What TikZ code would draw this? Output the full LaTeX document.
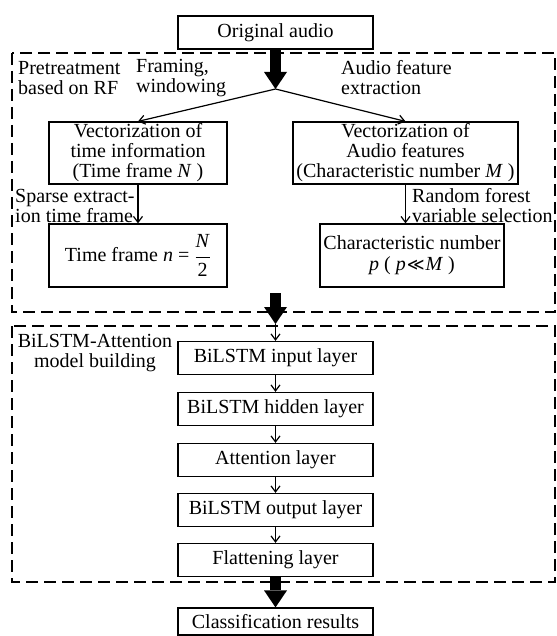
\documentclass[tikz,border=0pt]{standalone}
\usepackage{fontspec}
\setmainfont{Liberation Serif}
\newfontfamily\symfont{DejaVu Sans}
\usetikzlibrary{arrows.meta}
\tikzset{
  box/.style={draw, line width=1.2pt, inner sep=0pt, align=center, font=\fontsize{20}{20}\selectfont},
  lbl/.style={inner sep=0pt, anchor=west, align=left, font=\fontsize{20}{20}\selectfont},
  frame/.style={draw, line width=1.2pt, dash pattern=on 12pt off 6pt},
  thin/.style={line width=1.2pt, -{Straight Barb[length=6pt,width=9pt]}},
  bigarrow/.style={line width=11pt, -{Triangle[width=23pt,length=17pt,line width=0pt]}}
}
\begin{document}
\begin{tikzpicture}[x=1pt, y=-1pt]
    \useasboundingbox (0,0) rectangle (556,636);
    \draw[frame] (12,53) rectangle (555,312);
    \draw[frame] (12,326) rectangle (555,582);
    % pretreatment part
    \node[box, minimum width=195pt, minimum height=33pt] (orig) at (275.5,32.5) {Original audio};
    \node[box, minimum width=178pt, minimum height=62pt] (vtime) at (138,153) {Vectorization of\\time information\\(Time frame \textit{N} )};
    \node[box, minimum width=225pt, minimum height=62pt] (vfeat) at (405.5,153) {Vectorization of\\Audio features\\(Characteristic number \textit{M} )};
    \node[box, minimum width=178pt, minimum height=63pt] (tframe) at (138,255.5) {Time frame \textit{n} = $\displaystyle\frac{\mbox{\textit{N}}}{\mbox{2}}$};
    \node[box, minimum width=184pt, minimum height=63pt] (cnum) at (412,255.5) {Characteristic number\\[1pt]\textit{p} ( \textit{p}\kern1pt{\symfont\fontsize{17}{17}\selectfont ≪}\kern1pt\textit{M} )};
    \coordinate (split) at (275.5,89);
    \draw[bigarrow] (orig) -- (split);
    \draw[thin] (split) -- (vtime.north); \draw[thin] (split) -- (vfeat.north);
    \draw[thin] (vtime) -- (tframe);
    \draw[thin] (vfeat.south) -- (vfeat.south |- cnum.north);
    \node[lbl] at (18,78) {Pretreatment\\based on RF};
    \node[lbl] at (136,78) {Framing,\\windowing};
    \node[lbl] at (341,78) {Audio feature\\extraction};
    \node[lbl] at (15,205.5) {Sparse extract-\\ion time frame};
    \node[lbl] at (412,205.5) {Random forest\\variable selection};
    % model part
    \foreach \n/\y/\t in {inp/358/BiLSTM input layer, hid/409/BiLSTM hidden layer, att/460/Attention layer, outp/510/BiLSTM output layer, flat/560/Flattening layer}
        \node[box, minimum width=195pt, minimum height=33pt] (\n) at (275.5,\y) {\t};
    \foreach \a/\b in {inp/hid, hid/att, att/outp, outp/flat} \draw[thin] (\a) -- (\b);
    \node[lbl, anchor=center, align=center] at (95,353) {BiLSTM-Attention\\model building};
    \coordinate (gapa) at (275.5,293); \coordinate (gapb) at (275.5,324);
    \draw[bigarrow] (gapa) -- (gapb); \draw[thin] (gapb) -- (inp);
    \node[box, minimum width=195pt, minimum height=27pt] (cls) at (275.5,621.5) {Classification results};
    \draw[bigarrow] (flat) -- (cls);
\end{tikzpicture}
\end{document}
